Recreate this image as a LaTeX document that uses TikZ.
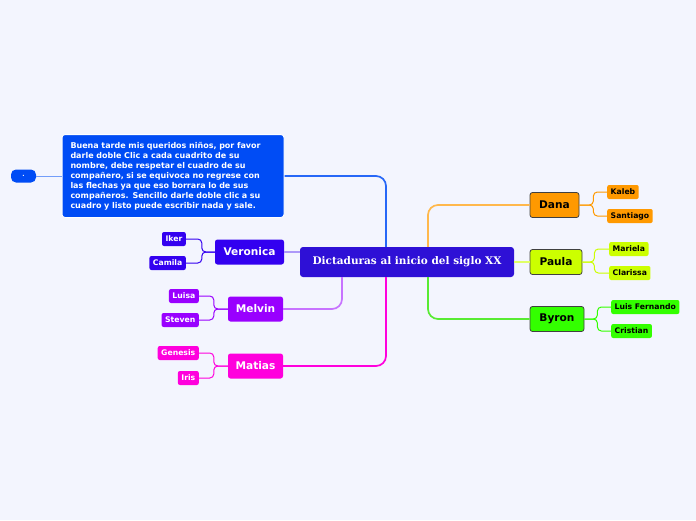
\documentclass[tikz,border=0pt]{standalone}
\usepackage{fontspec}
\setmainfont{DejaVu Sans}
\newfontfamily\titlefont{DejaVu Serif}
\usetikzlibrary{positioning}
\definecolor{bgcol}{RGB}{243,245,254}
\definecolor{centralcol}{RGB}{46,16,214}
\definecolor{notecol}{RGB}{0,76,245}
\definecolor{verocol}{RGB}{51,0,240}
\definecolor{melvcol}{RGB}{153,0,255}
\definecolor{matcol}{RGB}{255,0,221}
\definecolor{danacol}{RGB}{255,153,0}
\definecolor{paulcol}{RGB}{204,255,0}
\definecolor{byrocol}{RGB}{51,255,0}

\begin{document}
\begin{tikzpicture}[
  x=1pt, y=-1pt,
  topic/.style={rounded corners=2.5pt, inner sep=0pt, minimum height=25pt,
                font=\bfseries\fontsize{10.6}{12}\selectfont, text=white},
  righttopic/.style={topic, draw=black!75, line width=0.8pt, text=black},
  leaf/.style={rounded corners=2pt, inner xsep=3.5pt, inner ysep=0pt,
               minimum height=14pt, font=\bfseries\fontsize{7.7}{9}\selectfont,
               text=white},
  rightleaf/.style={leaf, text=black},
  branch/.style={line width=1.7pt, rounded corners=10pt},
  twig/.style={line width=1pt, rounded corners=4pt}
]
% Background and frame
\fill[bgcol] (0,0) rectangle (696,520);

% Central topic
\node[fill=centralcol, rounded corners=3pt, minimum width=214pt,
      minimum height=30pt, inner sep=0pt, text=white,
      font=\titlefont\bfseries\fontsize{10.5}{13}\selectfont]
  (central) at (407,262) {Dictaduras al inicio del siglo XX};

% Note and its dot
\node[fill=notecol, draw=white, line width=1pt, rounded corners=3pt,
      text width=205pt, inner xsep=8.5pt, inner ysep=3pt, minimum height=83pt,
      align=left, text=white, font=\bfseries\fontsize{8}{10}\selectfont]
  (note) at (173,176)
  {Buena tarde mis queridos niños, por favor\\
   darle doble Clic a cada cuadrito de su\\
   nombre, debe respetar el cuadro de su\\
   compañero, si se equivoca no regrese con\\
   las flechas ya que eso borrara lo de sus\\
   compañeros. Sencillo darle doble clic a su\\
   cuadro y listo puede escribir nada y sale.};
\node[fill=notecol, rounded corners=5pt, minimum width=25pt, minimum height=13pt,
      inner sep=0pt, text=white, font=\bfseries\fontsize{6}{7}\selectfont]
  (dot) at (23.5,176) {.};

% Left topics
\node[topic, fill=verocol, minimum width=69pt] (veronica) at (249.5,252) {Veronica};
\node[topic, fill=melvcol, minimum width=55pt] (melvin) at (255.5,309) {Melvin};
\node[topic, fill=matcol, minimum width=55pt] (matias) at (255.5,366) {Matias};

% Right topics
\node[righttopic, fill=danacol, minimum width=49pt] (dana) at (554.5,205) {Dana};
\node[righttopic, fill=paulcol, minimum width=52pt] (paula) at (556,262) {Paula};
\node[righttopic, fill=byrocol, minimum width=54pt] (byron) at (557,319) {Byron};

% Left leaves
\node[leaf, fill=verocol, anchor=east] (iker) at (186,239) {Iker};
\node[leaf, fill=verocol, anchor=east] (camila) at (186,263) {Camila};
\node[leaf, fill=melvcol, anchor=east] (luisa) at (199,296) {Luisa};
\node[leaf, fill=melvcol, anchor=east] (steven) at (199,320) {Steven};
\node[leaf, fill=matcol, anchor=east] (genesis) at (199,353) {Genesis};
\node[leaf, fill=matcol, anchor=east] (iris) at (199,378) {Iris};

% Right leaves
\node[rightleaf, fill=danacol, anchor=west] (kaleb) at (607,192) {Kaleb};
\node[rightleaf, fill=danacol, anchor=west] (santiago) at (607,216) {Santiago};
\node[rightleaf, fill=paulcol, anchor=west] (mariela) at (609,249) {Mariela};
\node[rightleaf, fill=paulcol, anchor=west] (clarissa) at (609,273) {Clarissa};
\node[rightleaf, fill=byrocol, anchor=west] (luisf) at (611,307) {Luis Fernando};
\node[rightleaf, fill=byrocol, anchor=west] (cristian) at (611,331) {Cristian};

% Branches from the central topic
\draw[line width=1pt, notecol!55] (dot.east) -- (note.west);
\draw[branch, notecol!85] (note.east) -| ([xshift=-21pt]central.north);
\draw[branch, verocol!40] (veronica.east) -- (veronica.east -| central.west);
\draw[branch, melvcol!55] ([xshift=-65pt]central.south) |- (melvin.east);
\draw[branch, matcol] ([xshift=-21pt]central.south) |- (matias.east);
\draw[branch, danacol!70] ([xshift=21pt]central.north) |- (dana.west);
\draw[branch, paulcol!60] (paula.west) -- (paula.west -| central.east);
\draw[branch, byrocol!90!black!80] ([xshift=21pt]central.south) |- (byron.west);

% Twigs to the leaves
\foreach \kid in {iker,camila}
  \draw[twig, verocol] (veronica.west) -- ++(-13,0) |- (\kid.east);
\foreach \kid in {luisa,steven}
  \draw[twig, melvcol] (melvin.west) -- ++(-14,0) |- (\kid.east);
\foreach \kid in {genesis,iris}
  \draw[twig, matcol] (matias.west) -- ++(-14,0) |- (\kid.east);
\foreach \kid in {kaleb,santiago}
  \draw[twig, danacol] (dana.east) -- ++(14,0) |- (\kid.west);
\foreach \kid in {mariela,clarissa}
  \draw[twig, paulcol] (paula.east) -- ++(12,0) |- (\kid.west);
\foreach \kid in {luisf,cristian}
  \draw[twig, byrocol] (byron.east) -- ++(13,0) |- (\kid.west);

\end{tikzpicture}
\end{document}
